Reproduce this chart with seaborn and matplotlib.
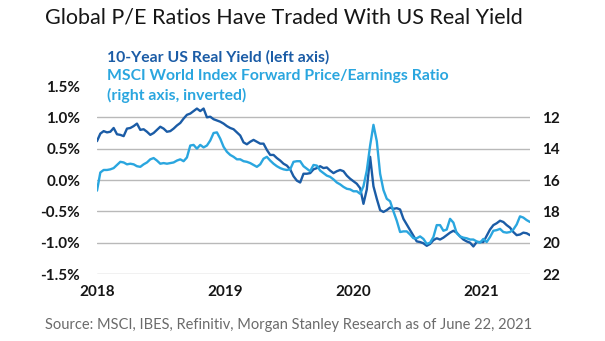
import numpy as np
import pandas as pd
import matplotlib
matplotlib.use("Agg")
import matplotlib.pyplot as plt
import seaborn as sns
from matplotlib.ticker import FuncFormatter, FixedLocator

# ---------------- data ----------------
start_date = "2018-01-01"
step = "228h"   # ~9.5 days between readings

# 10-Year US real yield, %
real_yield = [
    0.62, 0.74, 0.78, 0.76, 0.77, 0.83, 0.73, 0.72, 0.70, 0.82,
    0.83, 0.86, 0.90, 0.80, 0.81, 0.77, 0.72, 0.75, 0.80, 0.85,
    0.82, 0.77, 0.78, 0.82, 0.87, 0.91, 0.98, 1.04, 1.06, 1.10,
    1.14, 1.10, 1.14, 1.00, 1.01, 0.97, 0.95, 0.93, 0.90, 0.86,
    0.83, 0.81, 0.76, 0.71, 0.60, 0.57, 0.61, 0.64, 0.61, 0.58,
    0.58, 0.48, 0.40, 0.40, 0.35, 0.31, 0.26, 0.23, 0.17, 0.06,
    -0.01, -0.04, 0.10, 0.10, 0.11, 0.17, 0.19, 0.22, 0.19, 0.20,
    0.15, 0.11, 0.14, 0.16, 0.14, 0.07, 0.02, -0.02, -0.06, -0.13,
    -0.38, -0.15, 0.37, -0.10, -0.30, -0.48, -0.51, -0.48, -0.44, -0.46,
    -0.45, -0.47, -0.62, -0.71, -0.80, -0.89, -0.98, -0.99, -1.01, -1.05,
    -1.02, -0.96, -0.93, -0.95, -0.92, -0.88, -0.84, -0.81, -0.84, -0.90,
    -0.95, -0.98, -1.00, -1.06, -0.99, -0.99, -0.99, -0.89, -0.79, -0.72,
    -0.69, -0.65, -0.67, -0.72, -0.76, -0.83, -0.88, -0.87, -0.84, -0.85,
    -0.88,
]

# MSCI World forward P/E ratio (plotted on inverted right axis)
pe_ratio = [
    16.68, 15.52, 15.36, 15.36, 15.32, 15.24, 15.04, 14.84, 14.88, 15.00,
    14.96, 15.00, 15.12, 15.16, 15.00, 14.88, 14.68, 14.60, 14.76, 14.96,
    14.92, 14.96, 14.92, 14.88, 14.76, 14.68, 14.80, 14.56, 13.80, 13.76,
    14.00, 13.76, 13.92, 13.80, 13.48, 13.00, 12.96, 13.36, 13.88, 14.20,
    14.40, 14.52, 14.68, 14.68, 14.80, 14.84, 14.92, 15.04, 15.16, 15.00,
    14.64, 14.52, 14.76, 14.96, 15.12, 15.24, 15.32, 15.36, 15.32, 14.84,
    14.80, 14.80, 15.12, 15.28, 15.44, 15.04, 15.08, 15.40, 15.56, 15.72,
    15.80, 15.96, 16.16, 16.28, 16.44, 16.56, 16.60, 16.72, 16.72, 16.88,
    16.40, 15.40, 13.80, 12.48, 13.52, 15.60, 16.64, 17.20, 17.36, 18.00,
    18.60, 19.32, 19.28, 19.28, 19.48, 19.72, 19.72, 19.60, 19.76, 20.08,
    20.00, 19.64, 18.88, 18.88, 19.24, 19.16, 18.48, 18.72, 19.40, 19.60,
    19.68, 19.72, 19.80, 19.80, 19.92, 20.00, 19.76, 19.96, 19.64, 19.24,
    19.20, 19.12, 19.32, 19.36, 19.32, 19.16, 18.84, 18.32, 18.40, 18.56,
    18.68,
]

left_ticks = [-1.5, -1.0, -0.5, 0.0, 0.5, 1.0, 1.5]
right_ticks = [12, 14, 16, 18, 20, 22]
year_labels = ["2018", "2019", "2020", "2021"]

title = "Global P/E Ratios Have Traded With US Real Yield"
legend_dark = "10-Year US Real Yield (left axis)"
legend_light_1 = "MSCI World Index Forward Price/Earnings Ratio"
legend_light_2 = "(right axis, inverted)"
source = "Source: MSCI, IBES, Refinitiv, Morgan Stanley Research as of June 22, 2021"

# ---------------- style ----------------
DARK = "#1b5ca6"
LIGHT = "#2aa6df"
GRID = "#b9b9b9"
TXT = "#161616"

sns.set_theme(style="white")
plt.rcParams['font.family'] = ['Lato', 'DejaVu Sans']

W, H = 605, 341
dates = pd.date_range(start_date, periods=len(real_yield), freq=step)
df = pd.DataFrame({"date": dates, "real_yield": real_yield, "pe": pe_ratio})

fig = plt.figure(figsize=(W / 100, H / 100), dpi=100)
ax = fig.add_axes([97 / W, (H - 274) / H, 433 / W, 188 / H])
ax2 = ax.twinx()

sns.lineplot(data=df, x="date", y="real_yield", ax=ax, color=DARK, lw=1.7)
sns.lineplot(data=df, x="date", y="pe", ax=ax2, color=LIGHT, lw=1.7)

ax.set_ylim(-1.5, 1.5)
ax2.set_ylim(22, 10)
ax.set_xlim(dates[0], dates[-1])

ax.yaxis.set_major_locator(FixedLocator(left_ticks))
ax.yaxis.set_major_formatter(FuncFormatter(lambda v, p: f"{v:.1f}%"))
ax2.yaxis.set_major_locator(FixedLocator(right_ticks))
ax2.yaxis.set_major_formatter(FuncFormatter(lambda v, p: f"{int(v)}"))

year_pos = [pd.Timestamp(f"{y}-01-01") for y in year_labels]
ax.set_xticks(year_pos)
ax.set_xticklabels(year_labels)

for a in (ax, ax2):
    for s in a.spines.values():
        s.set_visible(False)
    a.set_xlabel("")
    a.set_ylabel("")
    a.tick_params(length=0)

ax.tick_params(axis="y", pad=12, labelsize=11, labelcolor=TXT)
ax.tick_params(axis="x", pad=8, labelsize=11, labelcolor=TXT)
ax2.tick_params(axis="y", pad=9, labelsize=11, labelcolor=TXT)
for lab in ax.get_yticklabels() + ax.get_xticklabels() + ax2.get_yticklabels():
    lab.set_fontweight("bold")

ax.yaxis.grid(True, color=GRID, lw=1.0)
ax.xaxis.grid(False)
ax2.grid(False)
ax.set_axisbelow(True)
gl = ax.get_ygridlines()
gl[-1].set_visible(False)

# titles / legend text
fig.text(45 / W, 1 - 18 / H, title, fontsize=15.5, color=TXT, va="center", ha="left")
fig.text(107 / W, 1 - 57 / H, legend_dark, fontsize=11.3, color=DARK, fontweight="bold", va="center")
fig.text(107 / W, 1 - 76 / H, legend_light_1, fontsize=11.3, color=LIGHT, fontweight="bold", va="center")
fig.text(107 / W, 1 - 95 / H, legend_light_2, fontsize=11.3, color=LIGHT, fontweight="bold", va="center")
fig.text(45 / W, 1 - 325 / H, source, fontsize=10.5, color="#6b6b6b", va="center", ha="left")

fig.savefig("out.png", dpi=100)
